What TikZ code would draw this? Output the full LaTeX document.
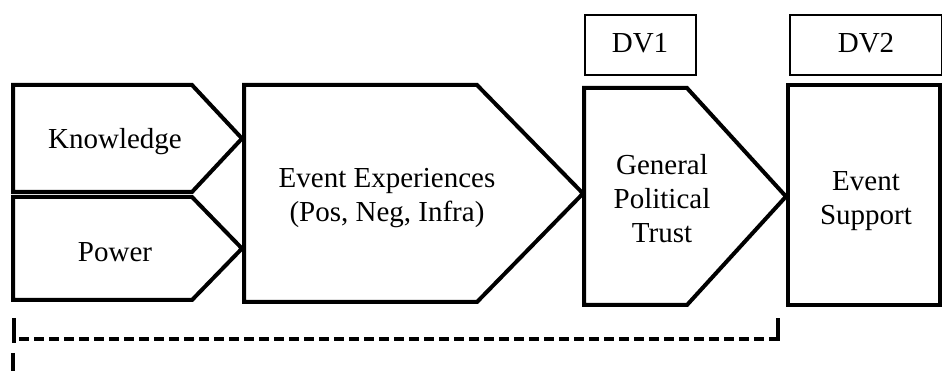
\documentclass[tikz,border=0pt]{standalone}
\usepackage{fontspec}
\setmainfont{Liberation Serif}
\begin{document}
\begin{tikzpicture}[x=1pt,y=-1pt,
  shp/.style={draw=black,line width=4pt,line join=miter},
  dvbox/.style={draw=black,line width=1.3pt},
  lbl/.style={font=\fontsize{29}{34}\selectfont,align=center,anchor=base,inner sep=0pt},
  brk/.style={draw=black,line width=3.5pt,dash pattern=on 10pt off 5pt},
  brkside/.style={draw=black,line width=3.5pt}]
\useasboundingbox (0,0) rectangle (943,371);
% shapes
\draw[shp] (13,85) -- (192,85) -- (242,138.5) -- (192,192) -- (13,192) -- cycle;
\draw[shp] (13,197) -- (192,197) -- (242,248.5) -- (192,300) -- (13,300) -- cycle;
\draw[shp] (244,85) -- (477,85) -- (583,193.5) -- (477,302) -- (244,302) -- cycle;
\draw[shp] (584,88) -- (687,88) -- (786,196.5) -- (687,305) -- (584,305) -- cycle;
\draw[shp] (788,85) rectangle (940,305);
\draw[dvbox] (585,15) rectangle (696,75);
\draw[dvbox] (790,15) rectangle (941.3,75);
% labels
\node[lbl] (kn) at (115,149) {Knowledge};
\node[lbl] (pw) at (115,262) {Power};
\node[lbl] (ee) at (387,222) {Event Experiences\\(Pos, Neg, Infra)};
\node[lbl] (gpt) at (662,243) {General\\Political\\Trust};
\node[lbl] (es) at (866,225) {Event\\Support};
\node[lbl] (dv1) at (640,53) {DV1};
\node[lbl] (dv2) at (866,53) {DV2};
% dashed bracket
\coordinate (bl1) at (14,318);
\coordinate (bl2) at (14,339);
\coordinate (br2) at (778,339);
\coordinate (br1) at (778,318);
\coordinate (lw1) at (13,353);
\coordinate (lw2) at (13,371);
\draw[brkside] (bl1) -- ([yshift=-4pt]bl2);
\draw[brk] ([xshift=5pt]bl2) -- ([xshift=-3pt]br2);
\draw[brkside] ([xshift=-3pt]br2) -- (br2) -- (br1);
\draw[brkside] (lw1) -- (lw2);
\end{tikzpicture}
\end{document}
